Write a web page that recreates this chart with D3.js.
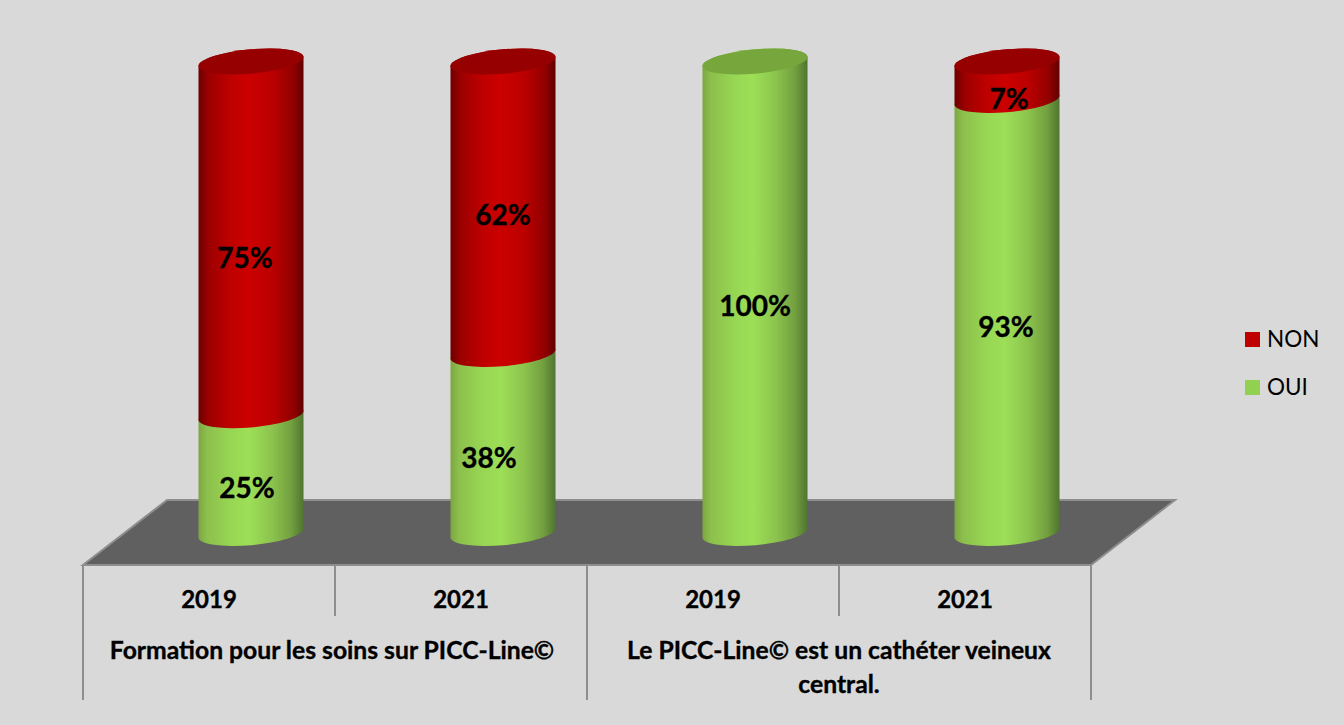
<!DOCTYPE html>
<html>
<head>
<meta charset="utf-8">
<script src="https://cdn.jsdelivr.net/npm/d3@7"></script>
<style>
  html, body { margin: 0; padding: 0; background: #d9d9d9; }
  svg { display: block; }
  text { font-family: Lato, "Open Sans", sans-serif; fill: #000; }
  text.heavy { font-weight: 700; stroke: #000; stroke-width: 0.35px; }
</style>
</head>
<body>
<div id="chart"></div>
<script>
var w = 1344;
var h = 725;

var years = ['2019', '2021', '2019', '2021'];
var oui = [25, 38, 100, 93];
var non = [75, 62, 0, 7];
var groups = ['Formation pour les soins sur PICC-Line©', 'Le PICC-Line© est un cathéter veineux|central.'];
var seriesNames = ['NON', 'OUI'];

// label nudges, the 3d chart does not center them on the segment
var ouiNudge = [[-4, 14], [-14, 14], [0, 9], [-1, 10]];
var nonNudge = [[-6, 20], [0, 7], [0, 0], [2, 18]];

var xScale = d3.scaleBand()
  .domain(d3.range(years.length))
  .range([83, 1091]);

// piecewise because the 3d view is not quite linear near the top
var yScale = d3.scaleLinear()
  .domain([0, 38, 93, 100])
  .range([533, 354, 100, 61.5]);

var depthX = 42;      // bars sit back on the floor
var barR = 52.5;
var capR = 12.2;
var skew = -4.9;

var svg = d3.select('#chart').append('svg')
  .attr('width', w)
  .attr('height', h);

svg.append('rect').attr('width', w).attr('height', h).attr('fill', '#d9d9d9');

// gradients
var defs = svg.append('defs');
function addGradient(id, stops) {
  var g = defs.append('linearGradient').attr('id', id)
    .attr('gradientUnits', 'userSpaceOnUse')
    .attr('x1', -barR).attr('x2', barR).attr('y1', 0).attr('y2', 0);
  stops.forEach(function(s) {
    g.append('stop').attr('offset', s[0]).attr('stop-color', s[1]);
  });
}
addGradient('redBody', [[0, '#6e0000'], [0.1, '#9c0000'], [0.3, '#be0000'], [0.48, '#cc0000'], [0.7, '#bb0000'], [0.9, '#920000'], [1, '#620000']]);
addGradient('greenBody', [[0, '#7da644'], [0.08, '#8cbf4c'], [0.3, '#97d653'], [0.48, '#9ddf57'], [0.7, '#8cc34d'], [0.88, '#73a040'], [1, '#4f7530']]);

// floor
var x0 = xScale.range()[0], x1 = xScale.range()[1];
var floorY = 565, backY = 500, backDx = 84;
svg.append('path')
  .attr('d', d3.line()([[x0, floorY], [x1, floorY], [x1 + backDx, backY], [x0 + backDx, backY]]) + 'Z')
  .attr('fill', '#606060')
  .attr('stroke', '#8e8e8e')
  .attr('stroke-width', 2);

// axis separators
var bw = xScale.bandwidth();
d3.range(years.length + 1).forEach(function(i) {
  svg.append('line')
    .attr('x1', x0 + i * bw).attr('x2', x0 + i * bw)
    .attr('y1', floorY)
    .attr('y2', i % 2 === 0 ? 700 : 616)
    .attr('stroke', '#8e8e8e')
    .attr('stroke-width', 2);
});

function segment(yb, yt) {
  return 'M' + (-barR) + ',' + yt + 'L' + (-barR) + ',' + yb +
    'A' + barR + ',' + capR + ' 0 0 0 ' + barR + ',' + yb +
    'L' + barR + ',' + yt +
    'A' + barR + ',' + capR + ' 0 0 0 ' + (-barR) + ',' + yt + 'Z';
}

var bars = svg.selectAll('.bar')
  .data(d3.range(years.length))
  .enter().append('g')
  .attr('class', 'bar')
  .attr('transform', function(i) {
    return 'translate(' + (xScale(i) + bw / 2 + depthX) + ',0) skewY(' + skew + ')';
  });

bars.append('path')
  .attr('d', function(i) { return segment(yScale(0), yScale(oui[i])); })
  .attr('fill', 'url(#greenBody)');

bars.filter(function(i) { return non[i] > 0; }).append('path')
  .attr('d', function(i) {
    // bottom edge of the red part follows the front of the boundary ellipse
    return segment(yScale(oui[i]), yScale(oui[i] + non[i]));
  })
  .attr('fill', 'url(#redBody)');

bars.append('ellipse')
  .attr('cx', 0)
  .attr('cy', yScale(100))
  .attr('rx', barR)
  .attr('ry', capR)
  .attr('fill', function(i) { return non[i] > 0 ? '#970000' : '#76a63c'; });

// value labels
function addLabels(values, nudge, base) {
  svg.selectAll(null)
    .data(d3.range(values.length).filter(function(i) { return values[i] > 0; }))
    .enter().append('text')
    .attr('class', 'heavy')
    .attr('x', function(i) { return xScale(i) + bw / 2 + depthX + nudge[i][0]; })
    .attr('y', function(i) {
      return (yScale(base[i]) + yScale(base[i] + values[i])) / 2 + nudge[i][1] + 10;
    })
    .attr('text-anchor', 'middle')
    .attr('font-size', 28)
    .text(function(i) { return values[i] + '%'; });
}
addLabels(oui, ouiNudge, [0, 0, 0, 0]);
addLabels(non, nonNudge, oui);

// year labels
svg.selectAll('.year')
  .data(years)
  .enter().append('text')
  .attr('class', 'year heavy')
  .attr('x', function(d, i) { return xScale(i) + bw / 2; })
  .attr('y', 608)
  .attr('text-anchor', 'middle')
  .attr('font-size', 24)
  .text(function(d) { return d; });

// group labels
groups.forEach(function(g, k) {
  g.split('|').forEach(function(line, j) {
    svg.append('text')
      .attr('class', 'heavy')
      .attr('x', xScale(k * 2) + bw - (k === 0 ? 3 : 0))
      .attr('y', 659 + j * 34)
      .attr('text-anchor', 'middle')
      .attr('font-size', 24.7)
      .text(line);
  });
});

// legend
var legendColors = ['#c00000', '#92d050'];
var legend = svg.selectAll('.legend')
  .data(seriesNames)
  .enter().append('g')
  .attr('class', 'legend')
  .attr('transform', function(d, i) { return 'translate(1245,' + (332 + i * 48) + ')'; });

legend.append('rect')
  .attr('width', 15)
  .attr('height', 15)
  .attr('fill', function(d, i) { return legendColors[i]; });

legend.append('text')
  .attr('x', 22)
  .attr('y', 15)
  .attr('font-size', 22.5)
  .text(function(d) { return d; });
</script>
</body>
</html>
